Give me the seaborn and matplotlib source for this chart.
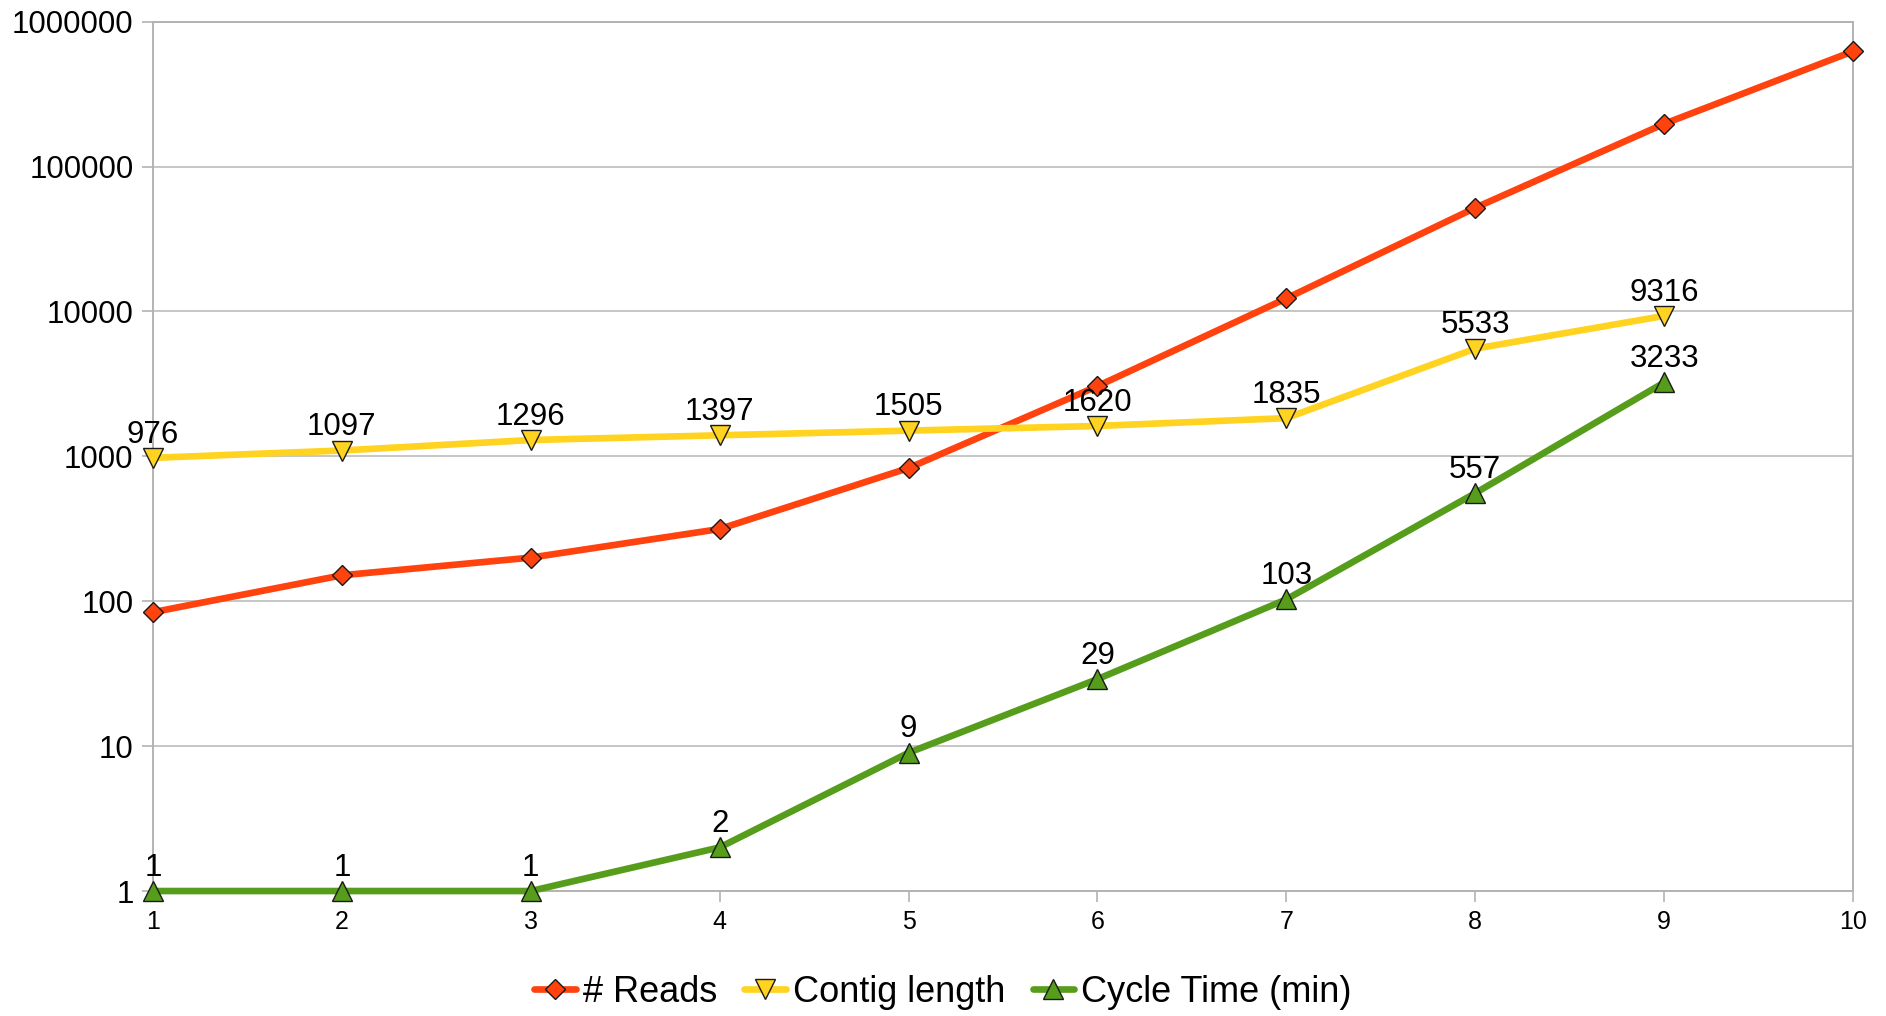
import numpy as np
import pandas as pd
import matplotlib
matplotlib.use("Agg")
import matplotlib.pyplot as plt
import seaborn as sns
from matplotlib.ticker import FixedLocator, FixedFormatter, NullLocator

# Iterations
steps = [1, 2, 3, 4, 5, 6, 7, 8, 9, 10]

# Series values
reads = [84, 151, 200, 315, 830, 3050, 12300, 51900, 197000, 624000]
contig_length = [976, 1097, 1296, 1397, 1505, 1620, 1835, 5533, 9316]
cycle_time = [1, 1, 1, 2, 9, 29, 103, 557, 3233]

series_names = ["# Reads", "Contig length", "Cycle Time (min)"]
y_ticks = [1, 10, 100, 1000, 10000, 100000, 1000000]
y_tick_labels = ["1", "10", "100", "1000", "10000", "100000", "1000000"]

sns.set_theme(style="white")
plt.rcParams["font.family"] = ["Liberation Sans", "DejaVu Sans"]
plt.rcParams["text.color"] = "black"

fig = plt.figure(figsize=(18.86, 10.16), dpi=100)
ax = fig.add_axes([0.0811, 0.123, 0.9014, 0.8557])

line_kw = dict(linewidth=4.8, markeredgecolor="#1a1a1a", markeredgewidth=1.0,
               clip_on=False, legend=False)

sns.lineplot(x=steps, y=reads, ax=ax, color="#FF420E", marker="D",
             markersize=9.7, zorder=3, **line_kw)
sns.lineplot(x=steps[:len(contig_length)], y=contig_length, ax=ax,
             color="#FFD320", marker="v", markersize=14.5, zorder=4, **line_kw)
sns.lineplot(x=steps[:len(cycle_time)], y=cycle_time, ax=ax,
             color="#579D1C", marker="^", markersize=14.5, zorder=5, **line_kw)

# value labels above the contig-length and cycle-time points
for xs, ys in ((steps[:len(contig_length)], contig_length),
               (steps[:len(cycle_time)], cycle_time)):
    for xv, yv in zip(xs, ys):
        ax.annotate(f"{yv}", (xv, yv), xytext=(0, 11), textcoords="offset points",
                    ha="center", va="baseline", fontsize=22.5, color="black",
                    zorder=6, annotation_clip=False)

ax.set_yscale("log")
ax.set_ylim(1, 1000000)
ax.set_xlim(1, 10)
ax.yaxis.set_major_locator(FixedLocator(y_ticks))
ax.yaxis.set_major_formatter(FixedFormatter(y_tick_labels))
ax.yaxis.set_minor_locator(NullLocator())
ax.set_xticks(steps)
ax.set_xticklabels([str(s) for s in steps])

ax.grid(axis="y", color="#c6c6c6", linewidth=1.4)
ax.grid(axis="x", visible=False)
for sp in ax.spines.values():
    sp.set_color("#b3b3b3")
    sp.set_linewidth(1.4)

ax.tick_params(axis="y", which="major", length=8, width=1.2, color="#b3b3b3",
               labelsize=22.5, pad=6, left=True, labelcolor="black")
ax.tick_params(axis="x", which="major", length=8, width=1.2, color="#b3b3b3",
               labelsize=18, pad=6, bottom=True, labelcolor="black")
ax.set_xlabel("")
ax.set_ylabel("")

handles = ax.get_lines()[:3]
leg = fig.legend(handles, series_names, loc="center", bbox_to_anchor=(0.5, 0.023),
                 ncol=3, frameon=False, fontsize=26, handlelength=1.15,
                 handletextpad=0.2, columnspacing=0.75, borderpad=0,
                 labelcolor="black")

fig.savefig("out.png", dpi=100)
